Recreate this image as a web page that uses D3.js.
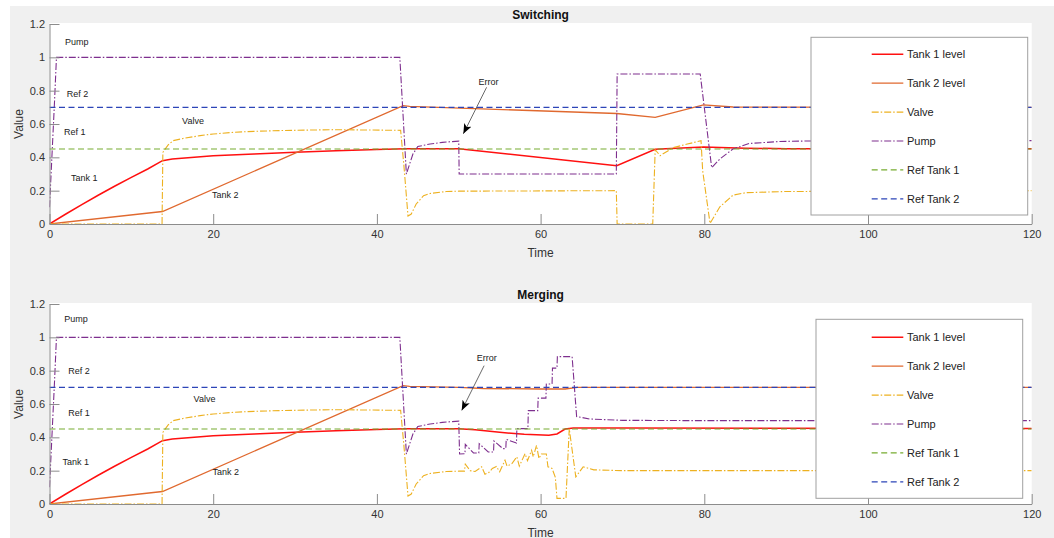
<!DOCTYPE html>
<html>
<head>
<meta charset="utf-8">
<script src="https://cdnjs.cloudflare.com/ajax/libs/d3/7.8.5/d3.min.js"></script>
<style>
    body {
        margin: 0;
        font-family: "Liberation Sans", Arial, sans-serif;
    }
    .axis .domain, .axis line {
        stroke: #8c8c8c;
    }
    .axis text {
        fill: #333;
        font-size: 11px;
        font-family: "Liberation Sans", Arial, sans-serif;
    }
</style>
</head>
<body>
<svg width="1054" height="538"></svg>
<script>
    // ---- data (time, value) ----
    var xTicks = [0, 20, 40, 60, 80, 100, 120];
    var yTicks = [0, 0.2, 0.4, 0.6, 0.8, 1, 1.2];
    var seriesNames = ["Tank 1 level", "Tank 2 level", "Valve", "Pump", "Ref Tank 1", "Ref Tank 2"];

    // part shared by both runs (t <= 50)
    var tank1Start = [[0, 0], [2, 0.06], [4, 0.118], [6, 0.174], [8, 0.228], [10, 0.28], [12, 0.33], [13.8, 0.38],
        [15, 0.39], [20, 0.41], [25, 0.42], [30, 0.43], [35, 0.44], [40, 0.447], [43.5, 0.452], [50, 0.452]];
    var tank2Start = [[0, 0], [13.8, 0.075], [43.2, 0.71], [44, 0.706]];
    var valveStart = [[0, 0], [13.75, 0], [13.85, 0.43], [14.5, 0.475], [15.1, 0.5], [16.5, 0.515], [18.4, 0.53],
        [20, 0.54], [22.5, 0.55], [25, 0.556], [28.6, 0.561], [34.7, 0.566], [42.9, 0.562], [43.3, 0.35],
        [43.8, 0.048], [44.2, 0.06], [44.8, 0.12], [45.7, 0.17], [46.5, 0.183], [48.5, 0.195], [50, 0.197]];
    var pumpStart = [[0, 0.1], [0.6, 0.72], [0.85, 1], [42.8, 1], [43.6, 0.3], [44.4, 0.42], [45, 0.465],
        [46.5, 0.48], [48, 0.49], [50, 0.497]];
    var ref1 = [[0, 0.45], [120, 0.45]];
    var ref2 = [[0, 0.7], [120, 0.7]];

    // switching run, t > 50
    var tank1Switch = [[69.3, 0.35], [74, 0.448], [79.9, 0.462], [85, 0.455], [90, 0.452], [120, 0.451]];
    var tank2Switch = [[69.3, 0.663], [74, 0.64], [79.9, 0.715], [83.5, 0.702], [120, 0.7]];
    var valveSwitch = [[69.25, 0.2], [69.35, 0], [73.7, 0], [74, 0.446], [74.6, 0.41], [76.2, 0.458], [77.8, 0.478],
        [79.6, 0.5], [79.8, 0.32], [80.7, 0.004], [81.9, 0.103], [83.5, 0.173], [85.1, 0.188], [90, 0.195], [120, 0.2]];
    var pumpSwitch = [[50.05, 0.3], [69.25, 0.3], [69.35, 0.9], [79.5, 0.9], [80.9, 0.338], [81.9, 0.39],
        [83.5, 0.45], [85.5, 0.483], [89.2, 0.495], [95, 0.5], [120, 0.5]];

    // merging run, t > 50
    var tank1Merge = [[52, 0.445], [55, 0.43], [58, 0.418], [61, 0.412], [62, 0.42], [63, 0.45], [64, 0.456],
        [70, 0.456], [120, 0.453]];
    var tank2Merge = [[50, 0.7], [53, 0.693], [60, 0.69], [63, 0.69], [64.5, 0.7], [120, 0.7]];
    var valveMerge = [[50.7, 0.197], [50.8, 0.239], [51.4, 0.2], [52, 0.195], [52.8, 0.223], [53.2, 0.179],
        [53.7, 0.19], [54.1, 0.213], [54.6, 0.225], [55, 0.193], [55.65, 0.263], [55.9, 0.227], [56.5, 0.243],
        [57.1, 0.283], [57.4, 0.227], [58.1, 0.302], [58.4, 0.26], [58.9, 0.322], [59.1, 0.283], [59.5, 0.352],
        [59.8, 0.273], [60.1, 0.3], [60.7, 0.3], [60.9, 0.223], [61.4, 0.213], [61.8, 0.16], [62, 0.034],
        [63.1, 0.034], [63.5, 0.452], [64.3, 0.163], [65.2, 0.223], [66.5, 0.205], [70, 0.2], [120, 0.2]];
    var pumpMerge = [[50.1, 0.3], [50.76, 0.302], [50.8, 0.358], [51.8, 0.306], [52.45, 0.306], [52.5, 0.362],
        [53.6, 0.312], [54.25, 0.312], [54.3, 0.378], [55.4, 0.332], [55.75, 0.332], [55.8, 0.388], [57.05, 0.366],
        [57.1, 0.452], [58.45, 0.452], [58.5, 0.56], [59.65, 0.56], [59.7, 0.635], [60.65, 0.635], [60.7, 0.72],
        [61.4, 0.72], [61.45, 0.815], [62, 0.815], [62.05, 0.884], [63.85, 0.884], [64.4, 0.525], [66, 0.51],
        [70, 0.502], [80, 0.5], [120, 0.5]];

    // text notes on each plot: [label, t, value]
    var notesSwitch = [["Pump", 1.9, 1.094], ["Ref 2", 2.1, 0.78], ["Ref 1", 1.77, 0.55], ["Valve", 16.2, 0.62],
        ["Tank 1", 2.63, 0.275], ["Tank 2", 19.85, 0.173], ["Error", 52.4, 0.852]];
    var notesMerge = [["Pump", 1.8, 1.109], ["Ref 2", 2.3, 0.796], ["Ref 1", 2.3, 0.547], ["Valve", 17.6, 0.631],
        ["Tank 1", 1.6, 0.253], ["Tank 2", 19.9, 0.193], ["Error", 52.2, 0.874]];
    // error arrows: [t0, v0, t1, v1]
    var arrowSwitch = [53.4, 0.82, 50.56, 0.541];
    var arrowMerge = [53.1, 0.83, 50.36, 0.561];

    // ---- styles ----
    var colors = ["#ff1010", "#e0692f", "#edb120", "#7e2f8e", "#77ac30", "#2d45b8"];
    var dashes = [null, null, "7,2,1.5,2", "7,2,1.5,2", "6,3.5", "6,3.5"];
    var widths = [1.5, 1.3, 1.1, 1.1, 1.2, 1.2];

    var svg = d3.select("svg");
    svg.append("rect").attr("width", 1054).attr("height", 538).attr("fill", "#fff");
    svg.append("rect").attr("x", 10).attr("y", 6).attr("width", 1044).attr("height", 532).attr("fill", "#f0f0f0");

    svg.append("defs").append("marker")
        .attr("id", "arrow")
        .attr("viewBox", "0 0 10 10")
        .attr("refX", 10).attr("refY", 5)
        .attr("markerWidth", 10).attr("markerHeight", 10)
        .attr("markerUnits", "userSpaceOnUse")
        .attr("orient", "auto")
        .append("path").attr("d", "M0,1 L10,5 L0,9 L2.5,5 Z").attr("fill", "#000");

    var x = d3.scaleLinear().domain([0, 120]);

    var charts = [
        {title: "Switching", top: 24, bottom: 224,
            data: [tank1Start.concat(tank1Switch), tank2Start.concat(tank2Switch), valveStart.concat(valveSwitch),
                pumpStart.concat(pumpSwitch), ref1, ref2],
            notes: notesSwitch, arrow: arrowSwitch,
            legend: {x0: 811, x1: 1027.7, y0: 37.3, y1: 215, row0: 54.3}},
        {title: "Merging", top: 304, bottom: 504,
            data: [tank1Start.concat(tank1Merge), tank2Start.concat(tank2Merge), valveStart.concat(valveMerge),
                pumpStart.concat(pumpMerge), ref1, ref2],
            notes: notesMerge, arrow: arrowMerge,
            legend: {x0: 816, x1: 1022.7, y0: 319.3, y1: 498.3, row0: 337.3}}
    ];

    var left = 49.5, right = 1031.7;
    x.range([left, right]);

    charts.forEach(function(c, ci) {
        var y = d3.scaleLinear().domain([0, 1.2]).range([c.bottom, c.top]);
        var g = svg.append("g");

        // plot area
        g.append("rect")
            .attr("x", left).attr("y", y(1.2) - 1)
            .attr("width", right - left).attr("height", c.bottom - y(1.2) + 1)
            .attr("fill", "#fff");

        g.append("clipPath").attr("id", "clip" + ci)
            .append("rect")
            .attr("x", left).attr("y", y(1.2) - 2)
            .attr("width", right - left).attr("height", c.bottom - y(1.2) + 2);

        var line = d3.line()
            .x(function(d) { return x(d[0]); })
            .y(function(d) { return y(d[1]); });

        g.append("g")
            .attr("clip-path", "url(#clip" + ci + ")")
            .selectAll("path")
            .data(c.data)
            .enter().append("path")
            .attr("d", line)
            .attr("fill", "none")
            .attr("stroke", function(d, i) { return colors[i]; })
            .attr("stroke-width", function(d, i) { return widths[i]; })
            .attr("stroke-dasharray", function(d, i) { return dashes[i]; });

        // notes
        g.selectAll("text.note")
            .data(c.notes)
            .enter().append("text")
            .attr("class", "note")
            .attr("x", function(d) { return x(d[1]); })
            .attr("y", function(d) { return y(d[2]); })
            .attr("dy", "0.35em")
            .attr("font-size", 9)
            .attr("fill", "#222")
            .text(function(d) { return d[0]; });

        g.append("line")
            .attr("x1", x(c.arrow[0])).attr("y1", y(c.arrow[1]))
            .attr("x2", x(c.arrow[2])).attr("y2", y(c.arrow[3]))
            .attr("stroke", "#444")
            .attr("stroke-width", 0.8)
            .attr("marker-end", "url(#arrow)");

        // axes
        g.append("g")
            .attr("class", "axis")
            .attr("transform", "translate(0," + c.bottom + ")")
            .call(d3.axisBottom(x).tickValues(xTicks).tickSizeInner(-10).tickSizeOuter(0).tickPadding(6));

        g.append("g")
            .attr("class", "axis")
            .attr("transform", "translate(" + left + ",0)")
            .call(d3.axisLeft(y).tickValues(yTicks).tickSizeInner(-10).tickSizeOuter(0).tickPadding(4.5)
                .tickFormat(function(d) { return String(d); }));

        g.append("text")
            .attr("x", (left + right) / 2).attr("y", c.top - 5)
            .attr("text-anchor", "middle")
            .attr("font-size", 12).attr("font-weight", "bold")
            .attr("fill", "#111")
            .text(c.title);

        g.append("text")
            .attr("x", (left + right) / 2).attr("y", c.bottom + 32.5)
            .attr("text-anchor", "middle")
            .attr("font-size", 12)
            .attr("fill", "#333")
            .text("Time");

        g.append("text")
            .attr("transform", "translate(23," + (c.top + c.bottom) / 2 + ") rotate(-90)")
            .attr("text-anchor", "middle")
            .attr("font-size", 12)
            .attr("fill", "#333")
            .text("Value");

        // legend
        var L = c.legend;
        g.append("rect")
            .attr("x", L.x0).attr("y", L.y0)
            .attr("width", L.x1 - L.x0).attr("height", L.y1 - L.y0)
            .attr("fill", "#fff").attr("stroke", "#a0a0a0").attr("stroke-width", 1);

        var item = g.selectAll("g.leg")
            .data(seriesNames)
            .enter().append("g")
            .attr("class", "leg")
            .attr("transform", function(d, i) { return "translate(0," + (L.row0 + i * 28.9) + ")"; });

        item.append("line")
            .attr("x1", 871.7).attr("x2", 903.3)
            .attr("stroke", function(d, i) { return colors[i]; })
            .attr("stroke-width", function(d, i) { return widths[i]; })
            .attr("stroke-dasharray", function(d, i) { return dashes[i]; });

        item.append("text")
            .attr("x", 907)
            .attr("dy", "0.35em")
            .attr("font-size", 11)
            .attr("fill", "#222")
            .text(function(d) { return d; });
    });
</script>
</body>
</html>
